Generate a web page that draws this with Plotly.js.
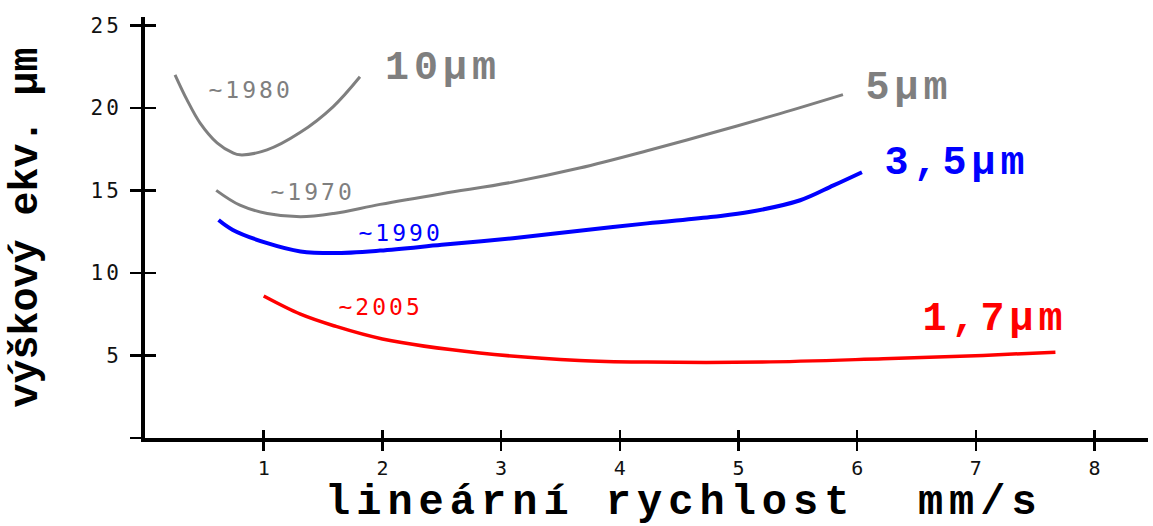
<!DOCTYPE html>
<html><head><meta charset="utf-8">
<script src="https://cdn.plot.ly/plotly-3.0.1.min.js"></script>
<style>
html,body{margin:0;padding:0;background:#fff}
.ytick text{letter-spacing:3px}
</style>
</head><body><div id="chart" style="width:1153px;height:526px"></div>
<script>
// ---- data ----
const xTicks = [1, 2, 3, 4, 5, 6, 7, 8];
const yTicks = [0, 5, 10, 15, 20, 25];
const yTickText = ['', '5', '10', '15', '20', '25'];

const x1980 = [0.253, 0.354, 0.463, 0.607, 0.741, 0.80, 1.028, 1.306, 1.584, 1.811];
const y1980 = [22.0, 20.48, 19.09, 17.88, 17.27, 17.15, 17.45, 18.5, 20.06, 21.88];

const x1970 = [0.60, 0.80, 1.03, 1.31, 1.59, 1.98, 2.50, 3.10, 3.66, 4.23, 4.79, 5.35, 5.88];
const y1970 = [15.0, 14.1, 13.6, 13.4, 13.6, 14.15, 14.8, 15.5, 16.35, 17.4, 18.5, 19.65, 20.8];

const x1990 = [0.62, 0.74, 1.03, 1.31, 1.59, 1.98, 2.50, 3.10, 3.66, 4.23, 4.79, 5.10, 5.52, 5.80, 6.04];
const y1990 = [13.2, 12.6, 11.8, 11.3, 11.2, 11.35, 11.7, 12.1, 12.55, 13.0, 13.4, 13.7, 14.4, 15.3, 16.1];

const x2005 = [1.00, 1.31, 1.59, 2.00, 2.82, 3.66, 4.23, 5.20, 6.22, 7.06, 7.67];
const y2005 = [8.6, 7.5, 6.8, 6.0, 5.15, 4.7, 4.6, 4.6, 4.8, 5.0, 5.2];

const yearLabels = ['~1980', '~1970', '~1990', '~2005'];
const sizeLabels = ['10\u00b5m', '5\u00b5m', '3,5\u00b5m', '1,7\u00b5m'];
const xTitle = 'lineární rychlost\u00a0\u00a0mm/s';
const yTitle = 'výškový ekv. \u00b5m';

// ---- styles ----
const GRAY = '#7f7f7f', BLUE = '#0000ff', RED = '#ff0000';
const mono = 'DejaVu Sans Mono, monospace';
const cour = '"Courier New", "Liberation Mono", monospace';

const line = (x, y, color, w) => ({
  x, y, type: 'scatter', mode: 'lines', hoverinfo: 'skip', showlegend: false,
  line: {color, width: w, shape: 'spline', smoothing: 1}
});

const traces = [
  line(x1980, y1980, GRAY, 3),
  line(x1970, y1970, GRAY, 3),
  line(x1990, y1990, BLUE, 4),
  line(x2005, y2005, RED, 3.5),
  {x: [], y: [], type: 'scatter', xaxis: 'x2', yaxis: 'y2', showlegend: false, hoverinfo: 'skip'}
];

const XR = [0, 8.45], YR = [0, 25.5];

const yearAnn = (t, x, y, c) => ({text: t, x, y, xref: 'x', yref: 'y', showarrow: false,
  xanchor: 'center', yanchor: 'middle', font: {family: mono, size: 23, color: c}});
const sizeAnn = (t, x, y, c) => ({text: t, x, y, xref: 'x', yref: 'y', showarrow: false,
  xanchor: 'center', yanchor: 'middle', font: {family: cour, size: 40, color: c, weight: 'bold'}});

const layout = {
  width: 1153, height: 526,
  margin: {l: 145, r: 5, t: 17, b: 88, pad: 0},
  paper_bgcolor: '#fff', plot_bgcolor: '#fff',
  showlegend: false,
  xaxis: {
    range: XR, showline: true, linecolor: '#000', linewidth: 4,
    ticks: 'outside', ticklen: 9, tickwidth: 2.5, tickcolor: '#000',
    tickmode: 'array', tickvals: xTicks,
    showgrid: false, zeroline: false, fixedrange: true,
    tickfont: {family: mono, size: 20, color: '#111'}
  },
  yaxis: {
    range: YR, showline: true, linecolor: '#000', linewidth: 4,
    ticks: 'outside', ticklen: 11, tickwidth: 2.5, tickcolor: '#000',
    tickmode: 'array', tickvals: yTicks, ticktext: yTickText,
    ticklabelstandoff: 4,
    showgrid: false, zeroline: false, fixedrange: true,
    tickfont: {family: mono, size: 21, color: '#111'},
    title: {text: yTitle, standoff: 42, font: {family: cour, size: 40, color: '#000', weight: 'bold'}}
  },
  xaxis2: {
    overlaying: 'x', anchor: 'y', range: XR, side: 'bottom',
    ticks: 'inside', ticklen: 8, tickwidth: 2.5, tickcolor: '#000',
    tickmode: 'array', tickvals: xTicks, showticklabels: false,
    showline: false, showgrid: false, zeroline: false, fixedrange: true
  },
  yaxis2: {
    overlaying: 'y', anchor: 'x', range: YR, side: 'left',
    ticks: 'inside', ticklen: 11, tickwidth: 2.5, tickcolor: '#000',
    tickmode: 'array', tickvals: yTicks.slice(1), showticklabels: false,
    showline: false, showgrid: false, zeroline: false, fixedrange: true
  },
  annotations: [
    yearAnn(yearLabels[0], 0.885, 21.1, GRAY),
    yearAnn(yearLabels[1], 1.415, 14.9, GRAY),
    yearAnn(yearLabels[2], 2.15, 12.4, BLUE),
    yearAnn(yearLabels[3], 1.98, 7.94, RED),
    sizeAnn(sizeLabels[0], 2.51, 22.4, GRAY),
    sizeAnn(sizeLabels[1], 6.44, 21.15, GRAY),
    sizeAnn(sizeLabels[2], 6.84, 16.6, BLUE),
    sizeAnn(sizeLabels[3], 7.16, 7.2, RED),
    {text: xTitle, x: 4.54, y: -0.2162, xref: 'x', yref: 'paper', showarrow: false,
     xanchor: 'center', yanchor: 'bottom',
     font: {family: cour, size: 42, color: '#000', weight: 'bold'}}
  ]
};

Plotly.newPlot('chart', traces, layout, {displayModeBar: false, staticPlot: true}).then(() => {
  // widen the monospaced labels a little, as in the horizontally stretched original
  document.querySelectorAll('.annotation-text').forEach((el, i) => {
    el.style.letterSpacing = i < 4 ? '3px' : (i < 8 ? '5px' : '6px');
  });
});
</script>
</body></html>
